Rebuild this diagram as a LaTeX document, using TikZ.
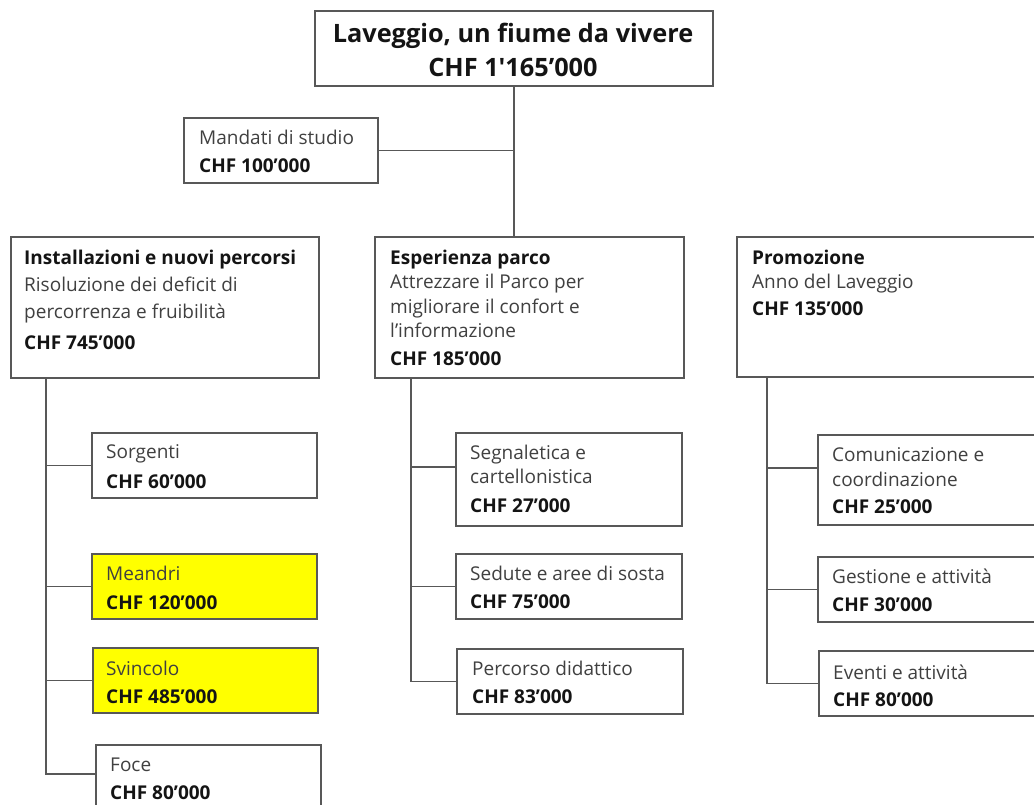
\documentclass[tikz,border=0pt]{standalone}
\usepackage{fontspec}
\newfontfamily\osans{Open Sans}
\usetikzlibrary{calc}
\definecolor{linegray}{RGB}{88,88,88}
\definecolor{txtgray}{RGB}{64,64,64}
\definecolor{boldblk}{RGB}{20,20,20}
\definecolor{hiyellow}{RGB}{255,255,0}
\newcommand{\hd}[1]{{\color{boldblk}\bfseries #1}}
\begin{document}
\begin{tikzpicture}[x=1pt,y=-1pt,
  box/.style={draw=linegray, line width=1.4pt, anchor=north west, inner sep=0pt, outer sep=0pt},
  hibox/.style={box, fill=hiyellow},
  txt/.style={anchor=north west, inner sep=0pt, align=left, text=txtgray, font=\osans\fontsize{19}{24.5}\selectfont},
  wtxt/.style={txt, font=\osans\fontsize{19}{27}\selectfont},
  ttl/.style={anchor=north, inner sep=0pt, align=center, text=boldblk, font=\osans\bfseries\fontsize{25.3}{34}\selectfont},
  conn/.style={draw=linegray, line width=1.3pt}]

\useasboundingbox (0,0) rectangle (1034,805);
\clip (0,0) rectangle (1034,805);
\fill[white] (0,0) rectangle (1034,805);

% top
\node[box, minimum width=398pt, minimum height=75pt] (top) at (315,11) {};
\node[ttl] (topT) at (513,22.8) {Laveggio, un fiume da vivere\\CHF 1'165’000};

% Mandati
\node[box, minimum width=194pt, minimum height=65pt] (mand) at (184,118) {};
\node[txt] (mandT) at (199,129.6) {Mandati di studio\\[4pt]\hd{CHF 100’000}};

% level 1
\node[box, minimum width=308pt, minimum height=141pt] (inst) at (11,237) {};
\node[wtxt] (instT) at (24,249.6) {\hd{Installazioni e nuovi percorsi}\\Risoluzione dei deficit di\\percorrenza e fruibilità\\[4pt]\hd{CHF 745’000}};

\node[box, minimum width=309pt, minimum height=141pt] (esp) at (375,237) {};
\node[txt] (espT) at (390,249.6) {\hd{Esperienza parco}\\Attrezzare il Parco per\\migliorare il confort e\\l’informazione\\[3pt]\hd{CHF 185’000}};

\node[box, minimum width=330pt, minimum height=140pt] (promo) at (737,237) {};
\node[txt] (promoT) at (752,249.6) {\hd{Promozione}\\Anno del Laveggio\\[2.5pt]\hd{CHF 135’000}};

% left children
\node[box, minimum width=225pt, minimum height=65pt] (sorg) at (92,433) {};
\node[txt] (sorgT) at (106,444.6) {Sorgenti\\[5pt]\hd{CHF 60’000}};
\node[hibox, minimum width=225pt, minimum height=65pt] (mean) at (92,554) {};
\node[txt] (meanT) at (106,565.6) {Meandri\\[4.5pt]\hd{CHF 120’000}};
\node[hibox, minimum width=225pt, minimum height=65pt] (svin) at (93,648) {};
\node[txt] (svinT) at (106,660.6) {Svincolo\\[4pt]\hd{CHF 485’000}};
\node[box, minimum width=225pt, minimum height=72pt] (foce) at (96,745) {};
\node[txt] (foceT) at (110,757.6) {Foce\\[3.5pt]\hd{CHF 80’000}};

% middle children
\node[box, minimum width=226pt, minimum height=93pt] (segn) at (456,433) {};
\node[txt] (segnT) at (470,444.6) {Segnaletica e\\cartellonistica\\[4pt]\hd{CHF 27’000}};
\node[box, minimum width=226pt, minimum height=65pt] (sedu) at (456,554) {};
\node[txt] (seduT) at (470,565.6) {Sedute e aree di sosta\\[4pt]\hd{CHF 75’000}};
\node[box, minimum width=226pt, minimum height=65pt] (perc) at (457,649) {};
\node[txt] (percT) at (472,660.6) {Percorso didattico\\[4pt]\hd{CHF 83’000}};

% right children
\node[box, minimum width=250pt, minimum height=90pt] (comu) at (818,435) {};
\node[txt] (comuT) at (832,447.6) {Comunicazione e\\coordinazione\\[3pt]\hd{CHF 25’000}};
\node[box, minimum width=250pt, minimum height=65pt] (gest) at (818,557) {};
\node[txt] (gestT) at (832,568.6) {Gestione e attività\\[3.5pt]\hd{CHF 30’000}};
\node[box, minimum width=250pt, minimum height=65pt] (even) at (819,651) {};
\node[txt] (evenT) at (833,664.6) {Eventi e attività\\[3pt]\hd{CHF 80’000}};

% connectors
\draw[conn] (top.south) -- (top.south |- esp.north);
\draw[conn] (mand.east) -- (mand.east -| top.south);

\coordinate (l0) at ($(inst.south west)+(35,0)$);
\draw[conn] (l0) |- (sorg.west);
\draw[conn] (l0) |- (mean.west);
\draw[conn] (l0) |- (svin.west);
\draw[conn] (l0) |- ([yshift=7pt]foce.west);

\coordinate (m0) at ($(esp.south west)+(36,0)$);
\draw[conn] (m0) |- ([yshift=12.5pt]segn.west);
\draw[conn] (m0) |- (sedu.west);
\draw[conn] (m0) |- (perc.west);

\coordinate (r0) at ($(promo.south west)+(30,0)$);
\draw[conn] (r0) |- ([yshift=12pt]comu.west);
\draw[conn] (r0) |- (gest.west);
\draw[conn] (r0) |- (even.west);
\end{tikzpicture}
\end{document}
